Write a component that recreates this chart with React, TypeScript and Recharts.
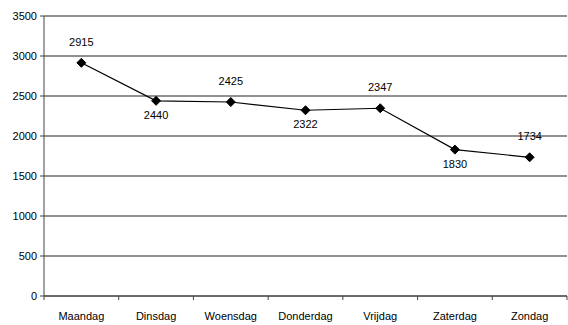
import React from 'react';
import { LineChart, Line, XAxis, YAxis, CartesianGrid, LabelList } from 'recharts';

const days = ['Maandag', 'Dinsdag', 'Woensdag', 'Donderdag', 'Vrijdag', 'Zaterdag', 'Zondag'];
const visitors = [2915, 2440, 2425, 2322, 2347, 1830, 1734];
const yTicks = [0, 500, 1000, 1500, 2000, 2500, 3000, 3500];

const data = days.map((day, i) => ({ day, value: visitors[i] }));

const FONT = 'Liberation Sans, Arial, sans-serif';

// diamond marker
const Diamond = (props: any) => {
  const { cx, cy } = props;
  if (cx == null || cy == null) return null;
  const r = 4.5;
  return (
    <polygon
      points={`${cx},${cy - r} ${cx + r},${cy} ${cx},${cy + r} ${cx - r},${cy}`}
      fill="#000"
      stroke="#000"
    />
  );
};

// x ticks sit between categories, like the original chart
const DayTick = (props: any) => {
  const { x, y, payload, index, visibleTicksCount } = props;
  const half = payload.offset || 0;
  return (
    <g>
      <line x1={x - half} x2={x - half} y1={y} y2={y + 4} stroke="#444" />
      {index === visibleTicksCount - 1 && (
        <line x1={x + half} x2={x + half} y1={y} y2={y + 4} stroke="#444" />
      )}
      <text x={x} y={y} dy={24} textAnchor="middle" fontSize={11} fontFamily={FONT} fill="#000">
        {payload.value}
      </text>
    </g>
  );
};

// labels alternate above / below the points
const ValueLabel = (props: any) => {
  const { x, y, value, index } = props;
  const above = index % 2 === 0;
  return (
    <text
      x={x}
      y={above ? y - 17 : y + 18}
      textAnchor="middle"
      fontSize={11}
      fontFamily={FONT}
      fill="#000"
    >
      {value}
    </text>
  );
};

export default function App() {
  return (
    <div style={{ position: 'absolute', left: 0, top: 0, background: '#fff' }}>
      <LineChart width={568} height={325} data={data} margin={{ top: 16, right: 1, left: 0, bottom: 0 }}>
        <CartesianGrid vertical={false} stroke="#222" strokeWidth={1} />
        <XAxis
          dataKey="day"
          scale="band"
          height={29}
          tickLine={false}
          tickSize={0}
          tickMargin={0}
          tick={<DayTick />}
          stroke="#444"
          interval={0}
        />
        <YAxis
          domain={[0, 3500]}
          ticks={yTicks}
          width={44}
          tickSize={4}
          tickMargin={3}
          stroke="#444"
          tick={{ fontSize: 11, fontFamily: FONT, fill: '#000' }}
          interval={0}
        />
        <Line
          type="linear"
          dataKey="value"
          stroke="#000"
          strokeWidth={1.2}
          dot={<Diamond />}
          activeDot={false}
          isAnimationActive={false}
        >
          <LabelList dataKey="value" content={<ValueLabel />} />
        </Line>
      </LineChart>
    </div>
  );
}
